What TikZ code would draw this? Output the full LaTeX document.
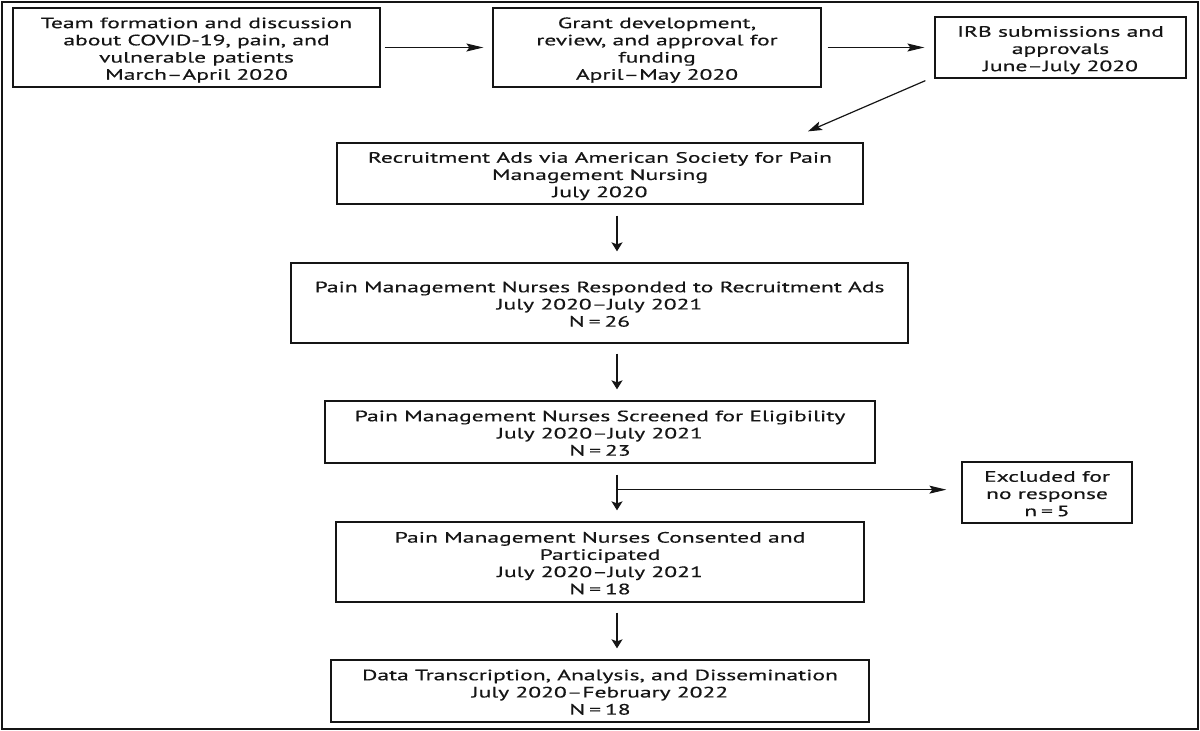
\documentclass[tikz,border=0pt]{standalone}
\usepackage{fontspec}
\setmainfont{PT Sans}
\newfontfamily\boxfont{PT Sans}[FakeBold=0.4]
\usepackage{graphicx}
\usetikzlibrary{arrows.meta,calc}
\newcommand{\txs}{1.57}
\newcommand{\btext}[1]{\raisebox{-3pt}[\height][\depth]{\scalebox{\txs}[1]{\begin{tabular}{@{}c@{}}#1\end{tabular}}}}
\definecolor{ink}{HTML}{151515}
\begin{document}
\begin{tikzpicture}[x=1pt,y=-1pt,
  stepbox/.style={draw=ink, line width=1.3pt, inner sep=0pt, text=ink,
    font=\boxfont\fontsize{15}{17.2}\selectfont},
  harr/.style={draw=ink, line width=1pt, -{Stealth[length=17pt,width=8pt,inset=3pt]}},
  varr/.style={draw=ink, line width=1.5pt, -{Stealth[length=9pt,width=11pt,inset=2pt]}},
  darr/.style={draw=ink, line width=1.2pt, -{Stealth[length=14pt,width=9pt,inset=3pt]}}]
\useasboundingbox (0,0) rectangle (1200,731);
\draw[ink, line width=2pt] (2,2) rectangle (1198,729);

\node[stepbox, minimum width=367pt, minimum height=79pt] (B1) at (196.5,47.5)
  {\btext{Team formation and discussion\\about COVID-19, pain, and\\vulnerable patients\\March–April 2020}};
\node[stepbox, minimum width=328pt, minimum height=79pt] (B2) at (657,47.5)
  {\btext{Grant development,\\review, and approval for\\funding\\April–May 2020}};
\node[stepbox, minimum width=251pt, minimum height=61pt] (B3) at (1060.5,47.5)
  {\btext{IRB submissions and\\approvals\\June–July 2020}};
\node[stepbox, minimum width=526pt, minimum height=61pt] (B4) at (600,173.5)
  {\btext{Recruitment Ads via American Society for Pain\\Management Nursing\\July 2020}};
\node[stepbox, minimum width=617pt, minimum height=80pt] (B5) at (599.5,303)
  {\btext{Pain Management Nurses Responded to Recruitment Ads\\July 2020–July 2021\\N\,=\,26}};
\node[stepbox, minimum width=550pt, minimum height=62pt] (B6) at (600,432)
  {\btext{Pain Management Nurses Screened for Eligibility\\July 2020–July 2021\\N\,=\,23}};
\node[stepbox, minimum width=170pt, minimum height=61pt] (EX) at (1047,492.5)
  {\btext{Excluded for\\no response\\n\,=\,5}};
\node[stepbox, minimum width=528pt, minimum height=80pt] (B7) at (600,562)
  {\btext{Pain Management Nurses Consented and\\Participated\\July 2020–July 2021\\N\,=\,18}};
\node[stepbox, minimum width=538pt, minimum height=62pt] (B8) at (600,691)
  {\btext{Data Transcription, Analysis, and Dissemination\\July 2020–February 2022\\N\,=\,18}};

\coordinate (axis) at (617,0);
\draw[harr, shorten <=4pt, shorten >=9pt] (B1.east) -- (B2.west);
\draw[harr, shorten <=6pt, shorten >=10pt] (B2.east) -- (B3.west);
\draw[darr] ($(B3.south west)+(-9,2)$) -- ($(B4.north)+(208,-11)$);
\draw[varr, shorten <=11pt, shorten >=11pt] (B4.south -| axis) -- (B5.north -| axis);
\draw[varr, shorten <=10pt, shorten >=11pt] (B5.south -| axis) -- (B6.north -| axis);
\draw[varr, shorten <=11pt, shorten >=11pt] (B6.south -| axis) -- (B7.north -| axis);
\draw[varr, shorten <=10pt, shorten >=11pt] (B7.south -| axis) -- (B8.north -| axis);
\coordinate (br) at ($(B6.south -| axis)+(0,26)$);
\draw[harr, shorten >=15pt] (br) -- (br -| EX.west);
\end{tikzpicture}
\end{document}
